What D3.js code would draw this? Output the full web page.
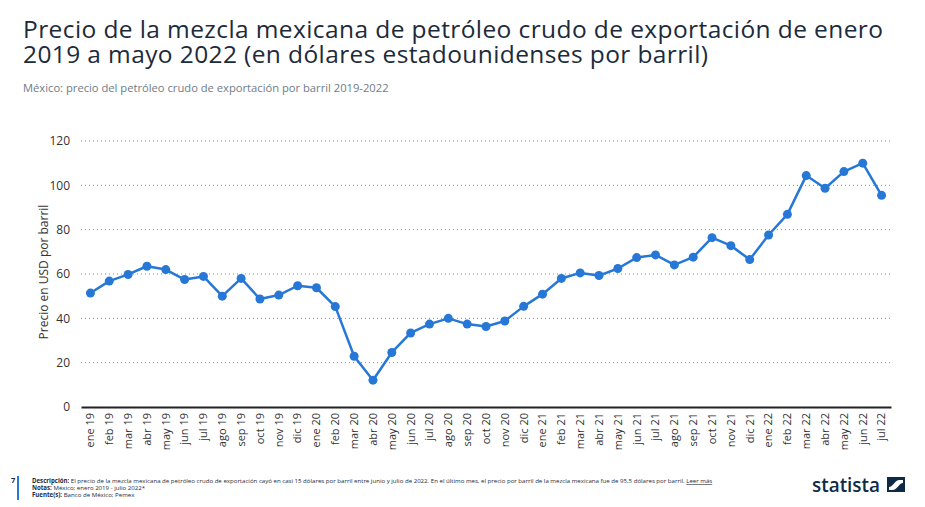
<!DOCTYPE html>
<html>
<head>
<meta charset="utf-8">
<script src="https://cdn.jsdelivr.net/npm/d3@7/dist/d3.min.js"></script>
<style>
  html, body { margin: 0; padding: 0; background: #fff; }
  svg { display: block; font-family: "Open Sans", sans-serif; }
</style>
</head>
<body>
<svg id="chart" width="925" height="507"></svg>
<script>
// ---- Data ----
const months = ["ene 19","feb 19","mar 19","abr 19","may 19","jun 19","jul 19","ago 19","sep 19","oct 19","nov 19","dic 19",
  "ene 20","feb 20","mar 20","abr 20","may 20","jun 20","jul 20","ago 20","sep 20","oct 20","nov 20","dic 20",
  "ene 21","feb 21","mar 21","abr 21","may 21","jun 21","jul 21","ago 21","sep 21","oct 21","nov 21","dic 21",
  "ene 22","feb 22","mar 22","abr 22","may 22","jun 22","jul 22"];
const prices = [51.4, 56.8, 59.8, 63.5, 62.0, 57.5, 58.9, 50.0, 58.0, 48.7, 50.5, 54.7,
  53.8, 45.3, 22.9, 12.1, 24.6, 33.4, 37.4, 40.0, 37.4, 36.3, 38.8, 45.4,
  50.9, 58.0, 60.5, 59.3, 62.5, 67.4, 68.6, 64.1, 67.6, 76.4, 72.8, 66.5,
  77.6, 86.9, 104.4, 98.7, 106.2, 110.0, 95.5];
const yTicks = [0, 20, 40, 60, 80, 100, 120];
const titleLines = ["Precio de la mezcla mexicana de petróleo crudo de exportación de enero",
  "2019 a mayo 2022 (en dólares estadounidenses por barril)"];
const subtitle = "México: precio del petróleo crudo de exportación por barril 2019-2022";
const yAxisTitle = "Precio en USD por barril";

// ---- Layout ----
const svg = d3.select("#chart");
const margin = {left: 81, right: 34, top: 141, bottom: 100};
const W = 925, H = 507;
const x = d3.scaleBand().domain(months).range([margin.left, W - margin.right]).padding(0);
const y = d3.scaleLinear().domain([0, 120]).range([407, 141]);

// Title
const titleWidths = [860, 685];
titleLines.forEach((t, i) => {
  svg.append("text").attr("fill", "#1c2b3b").attr("font-size", 24.5)
    .attr("x", 23).attr("y", 38 + i * 25)
    .attr("textLength", titleWidths[i]).attr("lengthAdjust", "spacing")
    .text(t);
});
svg.append("text").attr("x", 23).attr("y", 92).attr("fill", "#6f7c89").attr("font-size", 11.2).text(subtitle);

// Gridlines
svg.append("g").selectAll("line").data(yTicks.filter(d => d > 0)).join("line")
  .attr("x1", margin.left).attr("x2", W - margin.right)
  .attr("y1", d => y(d)).attr("y2", d => y(d))
  .attr("stroke", "#8a8a8a").attr("stroke-width", 1).attr("stroke-dasharray", "1,3");

// Y axis
const yAxis = svg.append("g").attr("transform", `translate(${margin.left},0)`)
  .call(d3.axisLeft(y).tickValues(yTicks).tickSize(0).tickPadding(11));
yAxis.select(".domain").remove();
yAxis.selectAll("text").attr("font-family", "Open Sans").attr("font-size", 12).attr("fill", "#333");

// X axis
const xAxis = svg.append("g").attr("transform", `translate(0,${y(0)})`)
  .call(d3.axisBottom(x).tickSize(0).tickPadding(0));
xAxis.select(".domain").attr("stroke", "#222").attr("stroke-width", 2);
xAxis.selectAll("text")
  .attr("font-family", "Open Sans").attr("font-size", 11).attr("fill", "#333")
  .attr("transform", "rotate(-90)")
  .attr("text-anchor", "end").attr("dy", "0.35em").attr("dx", "-6").attr("x", 0).attr("y", 0);

// Y axis title
svg.append("text")
  .attr("transform", `translate(48,${y(60) - 2}) rotate(-90)`)
  .attr("text-anchor", "middle").attr("font-size", 12).attr("fill", "#333")
  .text(yAxisTitle);

// Line
const cx = d => x(d) + x.bandwidth() / 2;
const line = d3.line().x((d, i) => cx(months[i])).y(d => y(d));
svg.append("path").datum(prices).attr("d", line)
  .attr("fill", "none").attr("stroke", "#2778d6").attr("stroke-width", 2.5).attr("stroke-linejoin", "round");
svg.append("g").selectAll("circle").data(prices).join("circle")
  .attr("cx", (d, i) => cx(months[i])).attr("cy", d => y(d)).attr("r", 4.5).attr("fill", "#2778d6");

// Footer
svg.append("text").attr("x", 11).attr("y", 483).attr("font-size", 7.5).attr("font-weight", "bold").attr("fill", "#1c2b3b").text("7");
svg.append("rect").attr("x", 17).attr("y", 476).attr("width", 2).attr("height", 24).attr("fill", "#2778d6");
const foot = svg.append("text").attr("font-size", 6.1).attr("fill", "#1c2b3b");
const f1 = foot.append("tspan").attr("x", 32).attr("y", 483);
f1.append("tspan").attr("font-weight", "bold").text("Descripción: ");
f1.append("tspan").text("El precio de la mezcla mexicana de petróleo crudo de exportación cayó en casi 15 dólares por barril entre junio y julio de 2022. En el último mes, el precio por barril de la mezcla mexicana fue de 95,5 dólares por barril. ");
f1.append("tspan").attr("text-decoration", "underline").text("Leer más");
const f2 = foot.append("tspan").attr("x", 32).attr("y", 490);
f2.append("tspan").attr("font-weight", "bold").text("Notas: ");
f2.append("tspan").text("México; enero 2019 - julio 2022*");
const f3 = foot.append("tspan").attr("x", 32).attr("y", 497);
f3.append("tspan").attr("font-weight", "bold").text("Fuente(s): ");
f3.append("tspan").text("Banco de México; Pemex");

// Logo
svg.append("text").attr("x", 812).attr("y", 492).attr("font-size", 20).attr("font-weight", 600)
  .attr("fill", "#0f2a44").attr("font-family", "Open Sans")
  .attr("textLength", 68).attr("lengthAdjust", "spacingAndGlyphs").text("statista");
const lg = svg.append("g").attr("transform", "translate(887,477)");
lg.append("rect").attr("width", 18).attr("height", 15).attr("fill", "#0f2a44");
lg.append("path").attr("d", "M2,13 L2,10 C6,10 7,4 12,3 L16,3 L16,6 C12,6 11,12 6,13 Z").attr("fill", "#fff");
</script>
</body>
</html>
